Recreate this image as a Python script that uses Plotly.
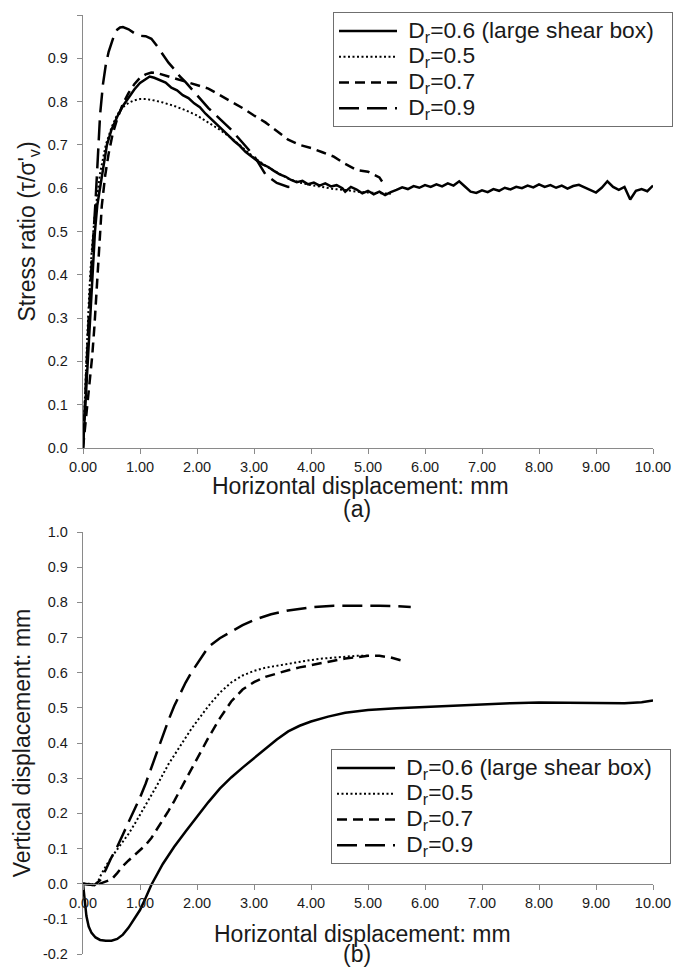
import plotly.graph_objects as go

# ---------------- data: panel (a) stress ratio ----------------
a06_x = [0, 0.04, 0.08, 0.12, 0.16, 0.21, 0.25, 0.3, 0.36, 0.42, 0.5, 0.6, 0.7, 0.8, 0.9, 1.0, 1.1, 1.17,
         1.25, 1.35, 1.45, 1.55, 1.65, 1.75, 1.85, 1.95, 2.05, 2.15, 2.25, 2.35, 2.45, 2.55, 2.65, 2.75,
         2.85, 2.95, 3.05, 3.15, 3.25, 3.35, 3.45, 3.55, 3.65, 3.75, 3.85, 3.95, 4.05, 4.15, 4.25, 4.35,
         4.45, 4.55, 4.6, 4.7, 4.8, 4.9, 5.0, 5.1, 5.2, 5.3, 5.4, 5.5, 5.6, 5.7, 5.8, 5.9, 6.0, 6.1, 6.2,
         6.3, 6.4, 6.5, 6.6, 6.7, 6.8, 6.9, 7.0, 7.1, 7.2, 7.3, 7.4, 7.5, 7.6, 7.7, 7.8, 7.9, 8.0, 8.1,
         8.2, 8.3, 8.4, 8.5, 8.6, 8.7, 8.8, 8.9, 9.0, 9.1, 9.2, 9.3, 9.4, 9.5, 9.6, 9.7, 9.8, 9.9, 10.0]
a06_y = [0, 0.10, 0.20, 0.30, 0.40, 0.50, 0.56, 0.60, 0.655, 0.70, 0.735, 0.765, 0.79, 0.81, 0.828, 0.843,
         0.853, 0.858, 0.855, 0.849, 0.844, 0.832, 0.826, 0.815, 0.808, 0.796, 0.787, 0.772, 0.760, 0.748,
         0.734, 0.722, 0.709, 0.698, 0.684, 0.673, 0.664, 0.655, 0.649, 0.640, 0.632, 0.627, 0.619, 0.614,
         0.617, 0.609, 0.613, 0.606, 0.611, 0.604, 0.607, 0.600, 0.592, 0.603, 0.597, 0.588, 0.594, 0.586,
         0.592, 0.584, 0.591, 0.596, 0.602, 0.598, 0.605, 0.601, 0.607, 0.603, 0.609, 0.604, 0.611, 0.606,
         0.616, 0.604, 0.592, 0.589, 0.595, 0.591, 0.598, 0.594, 0.601, 0.597, 0.603, 0.600, 0.606, 0.602,
         0.609, 0.603, 0.607, 0.601, 0.606, 0.599, 0.605, 0.608, 0.602, 0.597, 0.590, 0.601, 0.616, 0.603,
         0.596, 0.603, 0.574, 0.594, 0.598, 0.593, 0.606]

a05_x = [0, 0.03, 0.07, 0.11, 0.15, 0.2, 0.25, 0.3, 0.4, 0.5, 0.6, 0.7, 0.8, 0.9, 1.0, 1.1, 1.2, 1.4, 1.6,
         1.8, 2.0, 2.2, 2.4, 2.6, 2.8, 3.0, 3.2, 3.4, 3.6, 3.8, 4.0, 4.2, 4.4, 4.6, 4.8, 5.0, 5.2, 5.4]
a05_y = [0, 0.12, 0.24, 0.36, 0.45, 0.53, 0.59, 0.635, 0.70, 0.74, 0.77, 0.787, 0.797, 0.803, 0.806, 0.806,
         0.804, 0.798, 0.79, 0.78, 0.768, 0.752, 0.735, 0.716, 0.694, 0.671, 0.652, 0.636, 0.622, 0.613,
         0.607, 0.603, 0.598, 0.596, 0.592, 0.590, 0.588, 0.587]

a07_x = [0, 0.04, 0.08, 0.12, 0.16, 0.2, 0.24, 0.28, 0.33, 0.39, 0.45, 0.52, 0.6, 0.7, 0.8, 0.9, 1.0, 1.1,
         1.2, 1.3, 1.45, 1.6, 1.8, 2.0, 2.2, 2.4, 2.6, 2.8, 3.0, 3.2, 3.4, 3.6, 3.8, 4.0, 4.2, 4.4, 4.6,
         4.8, 5.0, 5.2, 5.3]
a07_y = [0, 0.05, 0.10, 0.15, 0.21, 0.28, 0.37, 0.47, 0.56, 0.63, 0.68, 0.725, 0.76, 0.795, 0.82, 0.84,
         0.855, 0.863, 0.867, 0.866, 0.86, 0.853, 0.845, 0.838, 0.83, 0.815, 0.80, 0.785, 0.768, 0.752,
         0.732, 0.712, 0.70, 0.693, 0.683, 0.673, 0.656, 0.642, 0.638, 0.625, 0.605]

a09_x = [0, 0.03, 0.06, 0.1, 0.14, 0.18, 0.22, 0.26, 0.3, 0.35, 0.4, 0.45, 0.5, 0.55, 0.6, 0.65, 0.7, 0.8,
         0.9, 1.0, 1.1, 1.2, 1.3, 1.4, 1.5, 1.6, 1.7, 1.8, 1.9, 2.0, 2.2, 2.4, 2.6, 2.8, 3.0, 3.2, 3.4,
         3.6, 3.75]
a09_y = [0, 0.10, 0.20, 0.30, 0.40, 0.48, 0.57, 0.67, 0.77, 0.84, 0.885, 0.915, 0.938, 0.955, 0.966,
         0.971, 0.972, 0.967, 0.958, 0.952, 0.951, 0.945, 0.928, 0.91, 0.89, 0.875, 0.858, 0.845, 0.83,
         0.815, 0.785, 0.76, 0.735, 0.705, 0.675, 0.632, 0.612, 0.603, 0.604]

# ---------------- data: panel (b) vertical displacement ----------------
b06_x = [0, 0.02, 0.06, 0.1, 0.15, 0.22, 0.3, 0.4, 0.5, 0.6, 0.7, 0.8, 0.9, 1.0, 1.1, 1.2, 1.4, 1.6, 1.8,
         2.0, 2.2, 2.4, 2.6, 2.8, 3.0, 3.2, 3.4, 3.6, 3.8, 4.0, 4.3, 4.6, 5.0, 5.5, 6.0, 6.5, 7.0, 7.5, 8.0,
         8.5, 9.0, 9.5, 9.8, 10.0]
b06_y = [0, -0.036, -0.092, -0.122, -0.14, -0.153, -0.16, -0.162, -0.162, -0.157, -0.145, -0.125, -0.1,
         -0.075, -0.04, -0.003, 0.056, 0.105, 0.148, 0.19, 0.232, 0.27, 0.302, 0.33, 0.356, 0.383, 0.41,
         0.433, 0.449, 0.461, 0.475, 0.486, 0.494, 0.499, 0.503, 0.507, 0.51, 0.513, 0.515, 0.515, 0.513,
         0.513, 0.516, 0.521]

b05_x = [0, 0.1, 0.2, 0.25, 0.3, 0.4, 0.5, 0.6, 0.7, 0.8, 0.9, 1.0, 1.1, 1.2, 1.3, 1.4, 1.5, 1.6, 1.7,
         1.8, 1.9, 2.0, 2.2, 2.4, 2.6, 2.8, 3.0, 3.2, 3.4, 3.6, 3.8, 4.0, 4.2, 4.4, 4.6, 4.8, 5.0]
b05_y = [0, 0, -0.003, 0, 0.02, 0.05, 0.075, 0.097, 0.12, 0.142, 0.168, 0.195, 0.222, 0.25, 0.28, 0.31,
         0.34, 0.365, 0.39, 0.418, 0.44, 0.462, 0.505, 0.543, 0.572, 0.592, 0.605, 0.614, 0.62, 0.626,
         0.631, 0.636, 0.64, 0.643, 0.646, 0.648, 0.648]

b07_x = [0, 0.1, 0.2, 0.3, 0.4, 0.5, 0.6, 0.7, 0.8, 0.9, 1.0, 1.1, 1.2, 1.3, 1.4, 1.5, 1.6, 1.7, 1.8,
         1.9, 2.0, 2.2, 2.4, 2.6, 2.8, 3.0, 3.2, 3.4, 3.6, 3.8, 4.0, 4.2, 4.4, 4.6, 4.8, 5.0, 5.2, 5.4, 5.65]
b07_y = [0, -0.002, -0.004, 0, 0.005, 0.012, 0.03, 0.05, 0.066, 0.08, 0.095, 0.11, 0.13, 0.155, 0.18,
         0.207, 0.235, 0.265, 0.295, 0.325, 0.355, 0.415, 0.47, 0.518, 0.552, 0.573, 0.588, 0.598, 0.607,
         0.615, 0.622, 0.628, 0.634, 0.64, 0.645, 0.648, 0.648, 0.643, 0.632]

b09_x = [0, 0.1, 0.2, 0.3, 0.4, 0.5, 0.6, 0.7, 0.8, 0.9, 1.0, 1.1, 1.2, 1.3, 1.4, 1.5, 1.6, 1.7, 1.8,
         1.9, 2.0, 2.2, 2.4, 2.6, 2.8, 3.0, 3.3, 3.6, 4.0, 4.4, 4.8, 5.2, 5.5, 5.75]
b09_y = [0, -0.002, -0.004, 0.01, 0.04, 0.075, 0.105, 0.14, 0.175, 0.21, 0.245, 0.285, 0.33, 0.38, 0.425,
         0.465, 0.505, 0.54, 0.572, 0.6, 0.625, 0.673, 0.698, 0.717, 0.735, 0.75, 0.766, 0.777, 0.786,
         0.79, 0.791, 0.79, 0.789, 0.787]

series_labels = ["D<sub>r</sub>=0.6 (large shear box)", "D<sub>r</sub>=0.5",
                 "D<sub>r</sub>=0.7", "D<sub>r</sub>=0.9"]

x_ticks = [0, 1, 2, 3, 4, 5, 6, 7, 8, 9, 10]
x_ticktext = ["0.00", "1.00", "2.00", "3.00", "4.00", "5.00", "6.00", "7.00", "8.00", "9.00", "10.00"]
ya_ticks = [0, 0.1, 0.2, 0.3, 0.4, 0.5, 0.6, 0.7, 0.8, 0.9, 1.0]
ya_ticktext = ["0.0", "0.1", "0.2", "0.3", "0.4", "0.5", "0.6", "0.7", "0.8", "0.9", "1.0"]
yb_ticks = [-0.2, -0.1, 0, 0.1, 0.2, 0.3, 0.4, 0.5, 0.6, 0.7, 0.8, 0.9, 1.0]
yb_ticktext = ["-0.2", "-0.1", "0.0", "0.1", "0.2", "0.3", "0.4", "0.5", "0.6", "0.7", "0.8", "0.9", "1.0"]

x_title = "Horizontal displacement: mm"
panel_tags = ["(a)", "(b)"]

# ---------------- styles / geometry ----------------
styles = [
    dict(color="black", width=2.5, dash="solid"),
    dict(color="black", width=2, dash="2px,2.5px"),
    dict(color="black", width=2.5, dash="10px,6px"),
    dict(color="black", width=2.5, dash="20px,8px"),
]

# the page body has an 8px margin: the figure is sized to fit inside the window
W, H, OFF = 676, 959, 8


def px(x):
    return (x - OFF) / W


def py(y):
    return 1 - (y - OFF) / H


FONT = "Liberation Sans, Arial, sans-serif"
AXIS_COL = "#8a8a8a"
TXT = "#1a1a1a"


def leg_text(label, trail=""):
    return '<span style="font-size:22.8px">&nbsp;' + label + trail + '</span>'


fig = go.Figure()

panel_a = [(a06_x, a06_y), (a05_x, a05_y), (a07_x, a07_y), (a09_x, a09_y)]
panel_b = [(b06_x, b06_y), (b05_x, b05_y), (b07_x, b07_y), (b09_x, b09_y)]
trails = ["&nbsp;&nbsp;", "", "", ""]

for (xs, ys), name, st, tr in zip(panel_a, series_labels, styles, trails):
    fig.add_trace(go.Scatter(x=xs, y=ys, mode="lines", name=leg_text(name, tr), line=st,
                             xaxis="x", yaxis="y", legend="legend"))
for (xs, ys), name, st, tr in zip(panel_b, series_labels, styles, trails):
    fig.add_trace(go.Scatter(x=xs, y=ys, mode="lines", name=leg_text(name, tr), line=st,
                             xaxis="x2", yaxis="y2", legend="legend2"))

xdom = [px(83), px(653)]
common_x = dict(range=[0, 10], tickvals=x_ticks, ticktext=x_ticktext, showline=True,
                linecolor=AXIS_COL, linewidth=1.3, ticks="outside", ticklen=5, tickcolor=AXIS_COL,
                showgrid=False, zeroline=False, tickfont=dict(size=14.5, color=TXT, family=FONT),
                ticklabelstandoff=0, domain=xdom, automargin=False)
common_y = dict(showline=True, linecolor=AXIS_COL, linewidth=1.3, ticks="outside", ticklen=5,
                tickcolor=AXIS_COL, showgrid=False, zeroline=False, automargin=False,
                ticklabelstandoff=6,
                tickfont=dict(size=14.5, color=TXT, family=FONT))

legend_common = dict(font=dict(size=17.5, family=FONT, color=TXT), bgcolor="white",
                     bordercolor="#6f6f6f", borderwidth=1, itemwidth=58,
                     xanchor="left", yanchor="top", tracegroupgap=0)

TITLE_FONT = dict(size=23, family=FONT, color=TXT)


def label(text, x, y):
    return dict(text=text, xref="paper", yref="paper", x=px(x), y=py(y),
                xanchor="center", yanchor="middle", showarrow=False, font=TITLE_FONT)


fig.update_layout(
    width=W, height=H,
    margin=dict(l=0, r=0, t=0, b=0),
    paper_bgcolor="white", plot_bgcolor="white",
    font=dict(family=FONT, color=TXT),
    xaxis=dict(**common_x, anchor="y"),
    yaxis=dict(**common_y, range=[0, 1], tickvals=ya_ticks, ticktext=ya_ticktext,
               domain=[py(448), py(15)], anchor="x",
               title=dict(text="Stress ratio (τ/σ'<sub>v</sub>)", font=TITLE_FONT, standoff=5)),
    xaxis2=dict(**common_x, anchor="free", position=py(884)),
    yaxis2=dict(**common_y, range=[-0.2, 1.0], tickvals=yb_ticks, ticktext=yb_ticktext,
                domain=[py(954), py(532)], anchor="x2",
                title=dict(text="Vertical displacement: mm", font=TITLE_FONT, standoff=5)),
    legend=dict(**legend_common, x=px(333), y=py(12)),
    legend2=dict(**legend_common, x=px(331), y=py(749)),
    showlegend=True,
    annotations=[
        label(x_title, 361, 486),
        label(panel_tags[0], 357, 509),
        label(x_title, 362, 934),
        label(panel_tags[1], 357, 954),
    ],
)

fig.write_html("out.html")
